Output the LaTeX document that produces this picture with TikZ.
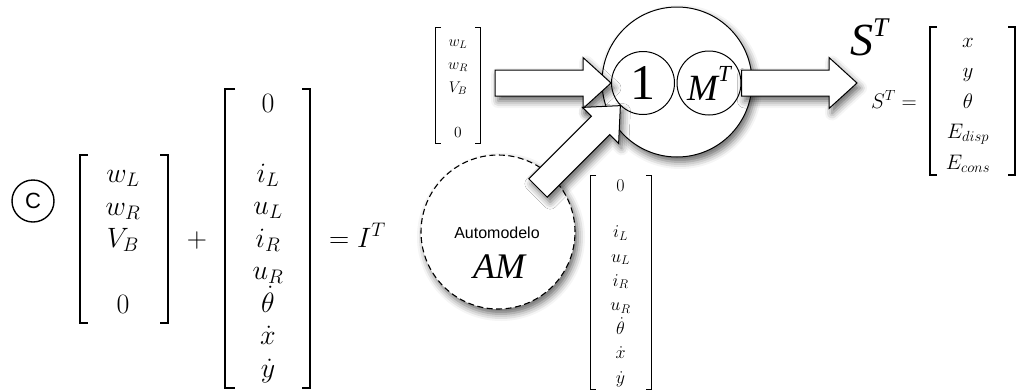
\RequirePackage{fix-cm}
\documentclass[tikz,border=0pt]{standalone}
\usepackage{amsmath,amssymb}
\usepackage{fontspec}
\usepackage{tikz}
\usetikzlibrary{calc,shadows.blur}
\newfontfamily\timesfont{Liberation Serif}
\newfontfamily\arialfont{Liberation Sans}

% block arrow from #1 (tail) to #2 (tip)
\newcommand{\blockarrow}[2]{%
  \coordinate (ah) at ($(#2)!28pt!(#1)$);
  \draw[blockarr] ($(#1)!13pt!90:(#2)$) -- ($(ah)!13pt!90:(#2)$)
    -- ($(ah)!25.5pt!90:(#2)$) -- (#2) -- ($(ah)!25.5pt!-90:(#2)$)
    -- ($(ah)!13pt!-90:(#2)$) -- ($(#1)!13pt!-90:(#2)$) -- cycle;}

\begin{document}
\begin{tikzpicture}[x=1pt,y=-1pt,
    shade/.style={blur shadow={shadow xshift=3pt,shadow yshift=-5pt,
                  shadow blur radius=7pt,shadow opacity=60}},
    blockarr/.style={draw,fill=white,line width=1pt,line join=miter,shade},
    brk/.style={line width=1.5pt},
    thinbrk/.style={line width=1pt},
    bigm/.style={anchor=base,inner sep=0,font=\fontsize{28}{32.5}\selectfont},
    smallm/.style={anchor=base,inner sep=0,font=\fontsize{15.5}{18}\selectfont},
    midm/.style={anchor=base,inner sep=0,font=\fontsize{18}{24.2}\selectfont},
    outm/.style={anchor=base,inner sep=0,font=\fontsize{21}{30.5}\selectfont},
    ring/.style={circle,draw,inner sep=0,line width=1pt}
  ]
  \useasboundingbox (0,0) rectangle (1019,391);

  % copyright mark
  \node[ring,line width=1.4pt,minimum size=42pt,
        font=\arialfont\fontsize{22}{24}\selectfont] (copy) at (33,201) {C};

  % first sum: input vector
  \draw[brk] (88,155) -- (80,155) -- (80,323) -- (88,323);
  \draw[brk] (160,155) -- (168,155) -- (168,323) -- (160,323);
  \foreach \n/\y/\e in {a/182/w_L, b/215/w_R, c/247/V_B, d/313/0}
    \node[bigm] (in\n) at (123,\y) {$\e$};
  \node[bigm] (plus) at (197,247) {$+$};

  % second vector (base = last row)
  \draw[brk] (235,89) -- (225,89) -- (225,388) -- (235,388);
  \draw[brk] (302,89) -- (310,89) -- (310,388) -- (302,388);
  \node[bigm] (sta) at (268,112) {$0$};
  \node[bigm,align=center] (stb) at (268,377)
    {$i_L$\\$u_L$\\$i_R$\\$u_R$\\$\dot{\theta}$\\$\dot{x}$\\$\dot{y}$};
  \node[bigm,anchor=base west] (ieq) at (329,247) {$= I^T$};

  % model
  \node[ring,minimum size=150pt,fill=white,shade] (model) at (677,82) {};
  \node[ring,minimum size=63pt,font=\timesfont\fontsize{50}{50}\selectfont]
    (one) at (643,83) {1};
  \node[ring,minimum size=64pt,font=\timesfont\itshape\fontsize{37}{37}\selectfont]
    (mt) at (709,83) {M\raisebox{19pt}{\fontsize{23}{23}\selectfont T}};

  % automodelo
  \node[ring,minimum size=154pt,fill=white,line width=1.1pt,
        dash pattern=on 6pt off 3.5pt,shade] (am) at (498,232) {};
  \node[anchor=base,inner sep=0,font=\arialfont\fontsize{16}{16}\selectfont]
    (amname) at (497,238) {Automodelo};
  \node[anchor=base,inner sep=0,font=\timesfont\itshape\fontsize{36}{36}\selectfont]
    (amsym) at (499,278) {AM};

  % small input vector
  \draw[thinbrk] (441,27) -- (435,27) -- (435,143) -- (441,143);
  \draw[thinbrk] (475,27) -- (480,27) -- (480,143) -- (475,143);
  \foreach \n/\y/\e in {a/46/w_L, b/69/w_R, c/92/V_B, d/137/0}
    \node[smallm] (ui\n) at (458,\y) {$\e$};

  % small state vector (base = last row)
  \draw[thinbrk] (596,175) -- (590,175) -- (590,389) -- (596,389);
  \draw[thinbrk] (646,175) -- (651,175) -- (651,389) -- (646,389);
  \node[midm] (usa) at (620.5,191) {$0$};
  \node[midm,align=center] (usb) at (620.5,383)
    {$i_L$\\$u_L$\\$i_R$\\$u_R$\\$\dot{\theta}$\\$\dot{x}$\\$\dot{y}$};

  % arrows
  \coordinate (intail) at (495,83);
  \coordinate (amtail) at (538,188);
  \coordinate (outtip) at (857,83);
  \blockarrow{intail}{one.west}
  \blockarrow{amtail}{one.225}
  \blockarrow{mt.east}{outtip}

  % output
  \node[anchor=base west,inner sep=0,font=\timesfont\itshape\fontsize{46}{46}\selectfont]
    (stitle) at (850,55) {S\raisebox{19pt}{\fontsize{27}{27}\selectfont T}};
  \node[outm,anchor=base east] (seq) at (917,108) {$S^T =$};
  \draw[brk] (937,27) -- (930,27) -- (930,175) -- (937,175);
  \draw[brk] (1008,27) -- (1015,27) -- (1015,175) -- (1008,175);
  \node[outm,align=center] (outv) at (968,169)
    {$x$\\$y$\\$\theta$\\$E_{disp}$\\$E_{cons}$};
\end{tikzpicture}
\end{document}
